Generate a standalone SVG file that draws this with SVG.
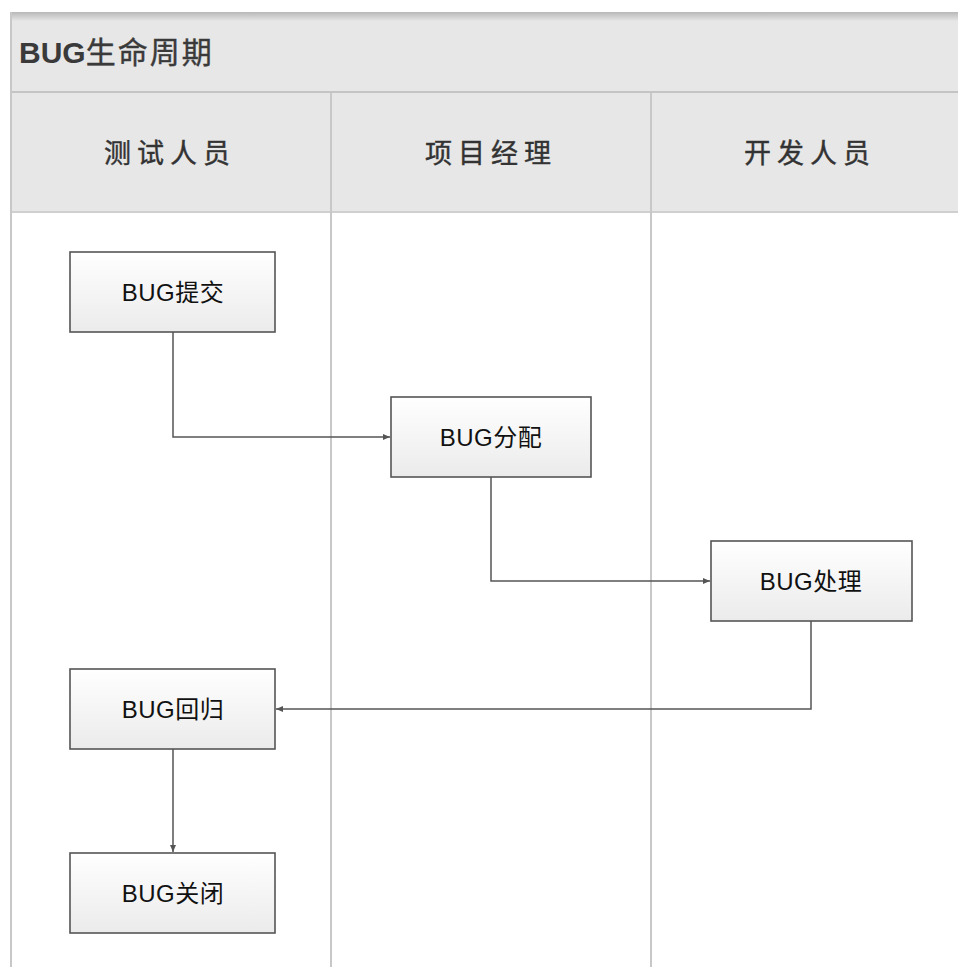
<svg xmlns="http://www.w3.org/2000/svg" width="958" height="967" viewBox="0 0 958 967">
<style>
.lane{stroke:#c8c8c8;stroke-width:2;fill:none}
.box{fill:url(#g);stroke:#555;stroke-width:1.6}
.nt{font-family:"Liberation Sans","Noto Sans CJK SC",sans-serif;font-size:24px;fill:#111;text-anchor:middle;letter-spacing:0.5px}
.ht{font-family:"Liberation Sans","Noto Sans CJK SC",sans-serif;font-size:27px;fill:#333;stroke:#333;stroke-width:0.4;text-anchor:middle;letter-spacing:6px}
.c{fill:none;stroke:#555;stroke-width:1.5}
</style>
<defs>
<linearGradient id="g" x1="0" y1="0" x2="0" y2="1"><stop offset="0" stop-color="#ffffff"/><stop offset="1" stop-color="#ebebeb"/></linearGradient>
<linearGradient id="sh" x1="0" y1="0" x2="0" y2="1"><stop offset="0" stop-color="#b8b8b8"/><stop offset="1" stop-color="#e6e6e6"/></linearGradient>
<marker id="a" markerWidth="8" markerHeight="6" refX="7" refY="3" orient="auto" markerUnits="userSpaceOnUse"><path d="M0,0 L7,3 L0,6 Z" fill="#555"/></marker>
</defs>
<rect x="0" y="0" width="958" height="967" fill="#fff"/>
<g id="pool">
<rect x="10" y="12" width="948" height="80" fill="#e7e7e7"/>
<rect x="10" y="12" width="948" height="9" fill="url(#sh)"/>
<rect x="10" y="93" width="948" height="119" fill="#e7e7e7"/>
<line x1="10" y1="92" x2="958" y2="92" stroke="#c4c4c4" stroke-width="2"/>
<line x1="10" y1="212" x2="958" y2="212" stroke="#d0d0d0" stroke-width="2"/>
<line class="lane" x1="11" y1="12" x2="11" y2="967"/>
<line class="lane" x1="331" y1="93" x2="331" y2="967"/>
<line class="lane" x1="651" y1="93" x2="651" y2="967"/>
<text x="19" y="63" font-family="Liberation Sans,Noto Sans CJK SC,sans-serif" font-size="30" fill="#3a3a3a"><tspan font-weight="bold">BUG</tspan><tspan stroke="#3a3a3a" stroke-width="0.4" letter-spacing="2">生命周期</tspan></text>
<text class="ht" x="170" y="163">测试人员</text>
<text class="ht" x="491" y="163">项目经理</text>
<text class="ht" x="810" y="163">开发人员</text>
</g>
<g id="connectors">
<path class="c" d="M173,332 V437 H390" marker-end="url(#a)"/>
<path class="c" d="M491,477 V581 H710" marker-end="url(#a)"/>
<path class="c" d="M811,621 V709 H276" marker-end="url(#a)"/>
<path class="c" d="M173,749 V852" marker-end="url(#a)"/>
</g>
<g id="n1"><rect class="box" x="70" y="252" width="205" height="80"/><text class="nt" x="173" y="301">BUG提交</text></g>
<g id="n2"><rect class="box" x="391" y="397" width="200" height="80"/><text class="nt" x="491" y="446">BUG分配</text></g>
<g id="n3"><rect class="box" x="711" y="541" width="201" height="80"/><text class="nt" x="811" y="590">BUG处理</text></g>
<g id="n4"><rect class="box" x="70" y="669" width="205" height="80"/><text class="nt" x="173" y="718">BUG回归</text></g>
<g id="n5"><rect class="box" x="70" y="853" width="205" height="80"/><text class="nt" x="173" y="902">BUG关闭</text></g>
</svg>
